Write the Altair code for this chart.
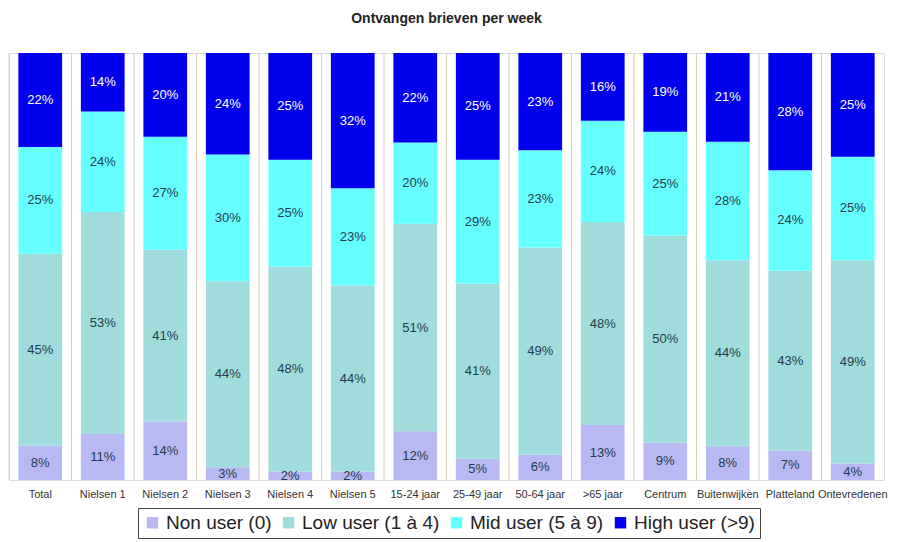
import altair as alt
import pandas as pd

categories = ["Total", "Nielsen 1", "Nielsen 2", "Nielsen 3", "Nielsen 4", "Nielsen 5",
              "15-24 jaar", "25-49 jaar", "50-64 jaar", ">65 jaar", "Centrum",
              "Buitenwijken", "Platteland", "Ontevredenen"]
non_user = [8, 11, 14, 3, 2, 2, 12, 5, 6, 13, 9, 8, 7, 4]
low_user = [45, 53, 41, 44, 48, 44, 51, 41, 49, 48, 50, 44, 43, 49]
mid_user = [25, 24, 27, 30, 25, 23, 20, 29, 23, 24, 25, 28, 24, 25]
high_user = [22, 14, 20, 24, 25, 32, 22, 25, 23, 16, 19, 21, 28, 25]

series_names = ["Non user (0)", "Low user (1 à 4)", "Mid user (5 à 9)", "High user (>9)"]
series_colors = ["#b8b8f2", "#a0dcdc", "#66ffff", "#0000ee"]

rows = []
for si, (name, vals) in enumerate(zip(series_names, [non_user, low_user, mid_user, high_user])):
    for c, v in zip(categories, vals):
        rows.append({"cat": c, "series": name, "idx": si, "value": v})
df = pd.DataFrame(rows)

FONT = "Liberation Sans, Arial, sans-serif"

base = alt.Chart(df).transform_stack(
    stack="value", groupby=["cat"], as_=["y0", "y1"], offset="normalize",
    sort=[alt.SortField("idx", order="ascending")]
).transform_calculate(
    mid="(datum.y0 + datum.y1) / 2", label="datum.value + '%'"
)

xscale = alt.Scale(paddingInner=0.3, paddingOuter=0.15)
xaxis = alt.Axis(labelAngle=0, ticks=False, domain=False, grid=False,
                 labelFontSize=11, labelColor="#333333", labelFont=FONT,
                 labelPadding=8, labelOverlap=False)

rules = alt.Chart(pd.DataFrame({"cat": categories})).mark_rule(
    color="#d8d2b8", strokeWidth=1, xOffset=-9.375
).encode(
    x=alt.X("cat:N", sort=categories, scale=xscale, bandPosition=0, title=None, axis=xaxis)
)

bars = base.mark_bar().encode(
    x=alt.X("cat:N", sort=categories, scale=xscale, title=None, axis=xaxis),
    y=alt.Y("y0:Q", scale=alt.Scale(domain=[0, 1]), axis=None),
    y2="y1:Q",
    color=alt.Color("series:N", scale=alt.Scale(domain=series_names, range=series_colors),
                    legend=alt.Legend(orient="none", legendX=129, legendY=455,
                                      direction="horizontal", title=None,
                                      strokeColor="#444444", fillColor="white",
                                      padding=5, labelFontSize=19, labelFont=FONT,
                                      labelColor="#222222",
                                      symbolType="square", symbolSize=130,
                                      symbolStrokeWidth=0, columnPadding=7)),
    order=alt.Order("idx:Q"),
)

text = base.mark_text(fontSize=13, font=FONT).encode(
    x=alt.X("cat:N", sort=categories, scale=xscale, title=None, axis=xaxis),
    y=alt.Y("mid:Q", axis=None),
    text="label:N",
    color=alt.condition(alt.datum.series == "High user (>9)", alt.value("white"), alt.value("#1f3b4d")),
)

chart = alt.layer(rules, bars, text).properties(
    width=875, height=427,
    title=alt.TitleParams("Ontvangen brieven per week", fontSize=14, fontWeight="bold",
                          font=FONT, color="#222222", anchor="middle", offset=27),
    padding={"top": 3, "left": 0, "right": 5, "bottom": 0},
).configure_view(stroke="#b8b8b8", strokeWidth=1).configure(background="white")

chart.save("out.html", embed_options={"renderer": "svg", "actions": False})
